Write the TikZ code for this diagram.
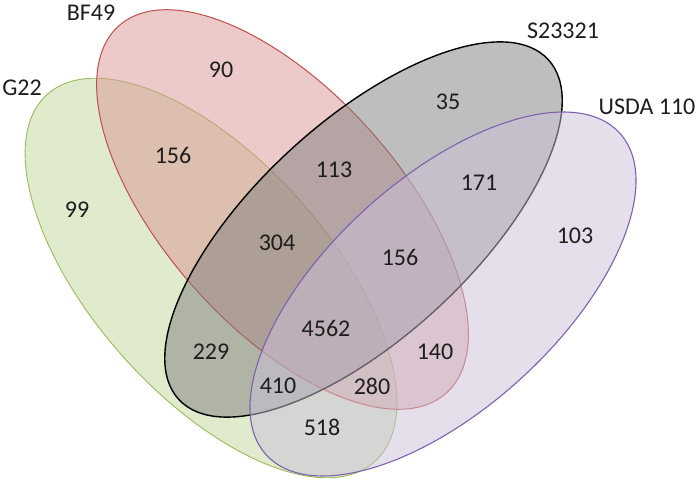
\documentclass[tikz,border=0pt]{standalone}
\usepackage{fontspec}
\setmainfont{Carlito}
\definecolor{cgreen}{HTML}{9BBB59}
\definecolor{cgreenf}{HTML}{C3D69B}
\definecolor{cred}{HTML}{C0504D}
\definecolor{credf}{HTML}{D99694}
\definecolor{cblackf}{HTML}{7F7F7F}
\definecolor{cpurple}{HTML}{7E62B0}
\definecolor{cpurplef}{HTML}{CCC1DA}
\definecolor{ctext}{HTML}{1E1E1E}
\begin{document}
\begin{tikzpicture}[x=1pt,y=-1pt,
  lbl/.style={font=\fontsize{24}{25}\selectfont, text=ctext, inner sep=0pt},
  setg/.style={draw=cgreen, fill=cgreenf, fill opacity=0.5, line width=0.9pt},
  setr/.style={draw=cred, fill=credf, fill opacity=0.5, line width=1pt},
  setb/.style={draw=black, fill=cblackf, fill opacity=0.5, line width=1.4pt},
  setp/.style={draw=cpurple, fill=cpurplef, fill opacity=0.5, line width=1.1pt}]
\useasboundingbox (0,0) rectangle (700,481);
\fill[white] (0,0) rectangle (700,481);
\draw[setg, rotate around={-48.3:(211,278)}] (211,278) ellipse [x radius=246pt, y radius=118pt];
\draw[setr, rotate around={-48.3:(282.5,209.5)}] (282.5,209.5) ellipse [x radius=246pt, y radius=118pt];
\draw[setb, rotate around={42.6:(363.5,229.5)}] (363.5,229.5) ellipse [x radius=251pt, y radius=108pt];
\draw[setp, rotate around={42.3:(443,294)}] (443,294) ellipse [x radius=239pt, y radius=115pt];
\node[lbl] (nbf) at (91,13) {BF49};
\node[lbl] (ng) at (22,88) {G22};
\node[lbl] (ns) at (563,31) {S23321};
\node[lbl] (nu) at (647,107) {USDA 110};
\node[lbl] (a90) at (221,70) {90};
\node[lbl] (a156a) at (173,155) {156};
\node[lbl] (a99) at (77,210) {99};
\node[lbl] (a113) at (334,170) {113};
\node[lbl] (a35) at (448,102) {35};
\node[lbl] (a171) at (479,183) {171};
\node[lbl] (a103) at (575,236) {103};
\node[lbl] (a304) at (277,243) {304};
\node[lbl] (a156b) at (400,257) {156};
\node[lbl] (a4562) at (326,328) {4562};
\node[lbl] (a229) at (211,352) {229};
\node[lbl] (a410) at (278,386) {410};
\node[lbl] (a518) at (322,427) {518};
\node[lbl] (a140) at (435,352) {140};
\node[lbl] (a280) at (372,386) {280};
\end{tikzpicture}
\end{document}
